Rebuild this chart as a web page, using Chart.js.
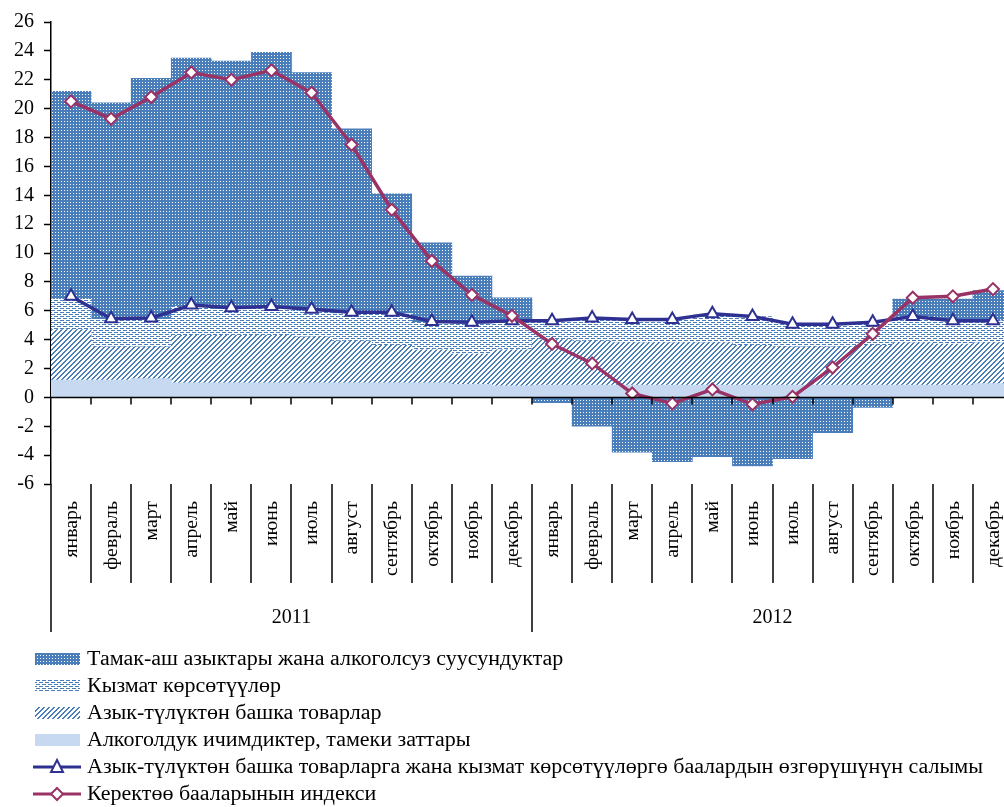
<!DOCTYPE html>
<html>
<head>
<meta charset="utf-8">
<script src="https://cdn.jsdelivr.net/npm/chart.js@4"></script>
<style>
  html, body { margin: 0; padding: 0; overflow: hidden; background: #fff; }
  #wrap { width: 1004px; height: 807px; overflow: hidden; position: relative; }
  canvas { display: block; }
</style>
</head>
<body>
<div id="wrap"><canvas id="cpiChart" width="1013" height="807" style="width:1013px;height:807px"></canvas></div>
<script>
// months, two years
const months = ['январь','февраль','март','апрель','май','июнь','июль','август','сентябрь','октябрь','ноябрь','декабрь',
                'январь','февраль','март','апрель','май','июнь','июль','август','сентябрь','октябрь','ноябрь','декабрь']
const years = ['2011', '2012']

// contributions, percentage points
const alcohol  = [1.2,1.2,1.3,1.0,1.0,1.0,1.0,1.0,1.0,1.0,0.9,0.8, 0.85,0.85,0.85,0.85,0.85,0.85,0.85,0.85,0.85,0.85,0.85,0.95]
const nonFood  = [3.5,2.3,2.2,3.3,3.3,3.3,3.2,2.9,2.6,2.3,2.1,2.5, 3.15,3.05,2.95,2.95,2.95,2.75,2.65,2.65,2.75,2.95,2.85,2.85]
const services = [2.1,1.9,1.9,2.0,1.8,1.9,1.8,1.9,2.2,1.9,2.1,1.9, 1.3,1.55,1.6,1.6,1.9,2.0,1.6,1.5,1.5,1.8,1.6,1.5]
const food     = [14.4,15.0,16.7,17.2,17.2,17.7,16.5,12.8,8.3,5.5,3.3,1.7, -0.37,-2.0,-3.8,-4.45,-4.1,-4.75,-4.25,-2.45,-0.7,1.2,1.5,2.1]
// lines
const nonFoodServ = [7.0,5.45,5.5,6.4,6.2,6.3,6.1,5.9,5.9,5.26,5.2,5.3, 5.3,5.5,5.4,5.4,5.8,5.6,5.07,5.07,5.2,5.6,5.3,5.3]
const cpi = [20.5,19.3,20.8,22.5,22.0,22.65,21.1,17.5,13.0,9.45,7.1,5.65, 3.7,2.35,0.27,-0.42,0.55,-0.48,0.04,2.07,4.4,6.9,7.0,7.5]

const legendLabels = [
  'Тамак-аш азыктары жана алкоголсуз суусундуктар',
  'Кызмат көрсөтүүлөр',
  'Азык-түлүктөн башка товарлар',
  'Алкоголдук ичимдиктер, тамеки заттары',
  'Азык-түлүктөн башка товарларга жана кызмат көрсөтүүлөргө баалардын өзгөрүшүнүн салымы',
  'Керектөө бааларынын индекси'
]

const BLUE = '#4a7ebb'
const NAVY = '#2e3192'
const PLUM = '#993366'
const LIGHT = '#c6d9f0'
const FONT = '"Liberation Serif", "Times New Roman", serif'

function makePattern(w, h, drawFn) {
  let c = document.createElement('canvas')
  c.width = w
  c.height = h
  let g = c.getContext('2d')
  drawFn(g)
  return g.createPattern(c, 'repeat')
}

let foodPat = makePattern(3, 3, function (g) {
  g.fillStyle = BLUE
  g.fillRect(0, 0, 3, 3)
  g.fillStyle = '#ffffff'
  g.fillRect(1, 1, 1, 1)
})
let servPat = makePattern(6, 4, function (g) {
  g.fillStyle = '#ffffff'
  g.fillRect(0, 0, 6, 4)
  g.fillStyle = BLUE
  g.fillRect(0, 0, 4, 1)
  g.fillRect(3, 2, 3, 1)
  g.fillRect(0, 2, 1, 1)
})
let hatchPat = makePattern(5, 5, function (g) {
  g.fillStyle = '#ffffff'
  g.fillRect(0, 0, 5, 5)
  g.fillStyle = BLUE
  for (let x = 0; x < 5; x++) {
    for (let y = 0; y < 5; y++) {
      if ((x + y) % 5 < 2) g.fillRect(x, y, 1, 1)
    }
  }
})

// axis at zero, month/year labels and legend
const decorations = {
  id: 'decorations',
  afterDatasetsDraw(chart) {
    let ctx = chart.ctx
    let xs = chart.scales.x
    let ys = chart.scales.y
    let area = chart.chartArea
    let step = xs.getPixelForValue(1) - xs.getPixelForValue(0)
    let y0 = ys.getPixelForValue(0)
    ctx.save()
    ctx.strokeStyle = '#000'
    ctx.lineWidth = 1.5
    ctx.beginPath()
    ctx.moveTo(area.left, y0)
    ctx.lineTo(area.right, y0)
    for (let i = 1; i <= months.length; i++) {
      let bx = Math.round(xs.getPixelForValue(i) - step / 2)
      ctx.moveTo(bx, y0)
      ctx.lineTo(bx, y0 + 7)
    }
    ctx.stroke()
    ctx.restore()
  },
  afterDraw(chart) {
    let ctx = chart.ctx
    let xs = chart.scales.x
    let area = chart.chartArea
    let step = xs.getPixelForValue(1) - xs.getPixelForValue(0)
    let bottom = area.bottom
    ctx.save()
    ctx.strokeStyle = '#000'
    ctx.lineWidth = 1.5
    ctx.beginPath()
    ctx.moveTo(area.left, bottom)
    ctx.lineTo(area.left, bottom + 148)
    for (let i = 1; i <= months.length; i++) {
      let bx = Math.round(xs.getPixelForValue(i) - step / 2)
      ctx.moveTo(bx, bottom)
      ctx.lineTo(bx, bottom + (i % 12 == 0 ? 148 : 99))
    }
    ctx.stroke()

    // month labels, rotated, reading upwards
    ctx.fillStyle = '#000'
    ctx.font = '18px ' + FONT
    ctx.textAlign = 'right'
    ctx.textBaseline = 'middle'
    for (let i = 0; i < months.length; i++) {
      ctx.save()
      ctx.translate(xs.getPixelForValue(i) + 1, bottom + 17)
      ctx.rotate(-Math.PI / 2)
      ctx.scale(1.1, 1)
      ctx.fillText(months[i], 0, 0)
      ctx.restore()
    }
    // years
    ctx.font = '20px ' + FONT
    ctx.textAlign = 'center'
    for (let k = 0; k < years.length; k++) {
      let cx = (xs.getPixelForValue(k * 12) + xs.getPixelForValue(k * 12 + 11)) / 2
      ctx.fillText(years[k], cx, bottom + 134)
    }

    // legend
    let rowY = 659
    let fills = [foodPat, servPat, hatchPat, LIGHT]
    ctx.textAlign = 'left'
    ctx.font = '20px ' + FONT
    for (let r = 0; r < legendLabels.length; r++) {
      let cy = rowY + r * 27
      if (r < 4) {
        ctx.fillStyle = fills[r]
        ctx.fillRect(35, cy - 6, 45, 12)
      } else {
        let col = r == 4 ? NAVY : PLUM
        ctx.strokeStyle = col
        ctx.lineWidth = 3
        ctx.beginPath()
        ctx.moveTo(33, cy)
        ctx.lineTo(81, cy)
        ctx.stroke()
        ctx.fillStyle = '#fff'
        ctx.lineWidth = 2
        ctx.beginPath()
        if (r == 4) {
          ctx.moveTo(57, cy - 7)
          ctx.lineTo(63, cy + 5)
          ctx.lineTo(51, cy + 5)
        } else {
          ctx.moveTo(57, cy - 6)
          ctx.lineTo(63, cy)
          ctx.lineTo(57, cy + 6)
          ctx.lineTo(51, cy)
        }
        ctx.closePath()
        ctx.fill()
        ctx.stroke()
      }
      ctx.save()
      ctx.fillStyle = '#000'
      ctx.translate(87, cy + 1)
      ctx.scale(1.1, 1)
      ctx.fillText(legendLabels[r], 0, 0)
      ctx.restore()
    }
    ctx.restore()
  }
}

function barSet(label, data, fill) {
  return {
    type: 'bar',
    label: label,
    data: data,
    backgroundColor: fill,
    borderWidth: 0,
    stack: 'bars',
    order: 2,
    barPercentage: 1,
    categoryPercentage: 1
  }
}

let ctx = document.getElementById('cpiChart').getContext('2d')
let cpiChart = new Chart(ctx, {
  type: 'bar',
  data: {
    labels: months,
    datasets: [
      barSet(legendLabels[3], alcohol, LIGHT),
      barSet(legendLabels[2], nonFood, hatchPat),
      barSet(legendLabels[1], services, servPat),
      barSet(legendLabels[0], food, foodPat),
      {
        type: 'line',
        label: legendLabels[4],
        data: nonFoodServ,
        stack: 'l1',
        order: 1,
        borderColor: NAVY,
        borderWidth: 3.5,
        pointStyle: 'triangle',
        pointRadius: 7,
        pointBorderWidth: 2,
        pointBorderColor: NAVY,
        pointBackgroundColor: '#fff',
        tension: 0
      },
      {
        type: 'line',
        label: legendLabels[5],
        data: cpi,
        stack: 'l2',
        order: 0,
        borderColor: PLUM,
        borderWidth: 3.5,
        pointStyle: 'rectRot',
        pointRadius: 6,
        pointBorderWidth: 2,
        pointBorderColor: PLUM,
        pointBackgroundColor: '#fff',
        tension: 0
      }
    ]
  },
  options: {
    responsive: false,
    animation: false,
    layout: { autoPadding: false, padding: { top: 21.6, bottom: 323, left: 0, right: 0 } },
    plugins: {
      legend: { display: false },
      tooltip: { enabled: false }
    },
    scales: {
      x: {
        display: false,
        stacked: true
      },
      y: {
        stacked: true,
        min: -6,
        max: 26,
        afterFit: function (s) { s.width = 51 },
        ticks: {
          stepSize: 2,
          color: '#000',
          padding: 10,
          font: { family: FONT, size: 20 }
        },
        grid: {
          display: true,
          drawOnChartArea: false,
          drawTicks: true,
          tickLength: 7,
          tickWidth: 1.5,
          color: '#000'
        },
        border: { display: true, color: '#000', width: 1.5 }
      }
    }
  },
  plugins: [decorations]
})
</script>
</body>
</html>
